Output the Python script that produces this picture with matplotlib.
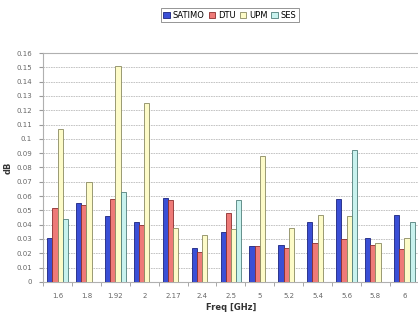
import matplotlib
matplotlib.use("Agg")
import matplotlib.pyplot as plt
import numpy as np

freqs = ["1.6", "1.8", "1.92", "2", "2.17", "2.4", "2.5", "5", "5.2", "5.4", "5.6", "5.8", "6"]
satimo = [0.031, 0.055, 0.046, 0.042, 0.059, 0.024, 0.035, 0.025, 0.026, 0.042, 0.058, 0.031, 0.047]
dtu    = [0.052, 0.054, 0.058, 0.040, 0.057, 0.021, 0.048, 0.025, 0.024, 0.027, 0.030, 0.026, 0.023]
upm    = [0.107, 0.070, 0.151, 0.125, 0.038, 0.033, 0.037, 0.088, 0.038, 0.047, 0.046, 0.027, 0.031]
ses    = [0.044, 0.0, 0.063, 0.0, 0.0, 0.0, 0.057, 0.0, 0.0, 0.0, 0.092, 0.0, 0.042]

series = [("SATIMO", satimo, "#3a4fd6", "#1a237e"),
          ("DTU", dtu, "#ee7a78", "#8b2d2d"),
          ("UPM", upm, "#fdfbc8", "#8a8a60"),
          ("SES", ses, "#c8f2ee", "#4f7f7a")]

fig = plt.figure(figsize=(4.18, 3.16), dpi=100)
ax = fig.add_axes([0.103, 0.108, 0.899, 0.724])

x = np.arange(len(freqs))
w = 0.18
for i, (name, vals, fc, ec) in enumerate(series):
    ax.bar(x + (i - 1.5) * w, vals, width=w, color=fc, edgecolor=ec, linewidth=0.6,
           label=name, zorder=3)

ax.set_xlim(-0.5, len(freqs) - 0.5)
ax.set_ylim(0, 0.16)
ax.set_yticks(np.arange(0, 0.161, 0.01))
ax.set_yticklabels([("%g" % round(v, 2)) for v in np.arange(0, 0.161, 0.01)])
ax.set_xticks(x)
ax.set_xticklabels(freqs)
ax.set_xticks(np.arange(-0.5, len(freqs), 1), minor=True)
ax.tick_params(axis="x", which="major", length=0, labelsize=5, colors="#666666", pad=8)
ax.tick_params(axis="x", which="minor", length=3, color="#999999", direction="out")
ax.tick_params(axis="y", length=3, labelsize=5, colors="#666666", pad=5)
ax.tick_params(axis="y", color="#999999")

ax.yaxis.grid(True, linestyle=(0, (2, 1)), color="#bbbbbb", linewidth=0.6, zorder=0)
for s in ["top", "left", "bottom"]:
    ax.spines[s].set_color("#b0b0b0")
    ax.spines[s].set_linewidth(0.8)
ax.spines["right"].set_visible(False)

ax.set_xlabel("Freq [GHz]", fontsize=6, fontweight="bold", color="#333333", labelpad=3)
ax.set_ylabel("dB", fontsize=6, fontweight="bold", color="#333333")
ax.yaxis.set_label_coords(-0.08, 0.5)

leg = fig.legend(loc="center", bbox_to_anchor=(0.55, 0.952), ncol=4, fontsize=6,
                 frameon=True, fancybox=False, handlelength=0.8, handleheight=0.8,
                 handletextpad=0.3, columnspacing=0.5, borderpad=0.3)
leg.get_frame().set_edgecolor("#666666")
leg.get_frame().set_linewidth(0.6)

fig.savefig("out.png", dpi=100, facecolor="white")
